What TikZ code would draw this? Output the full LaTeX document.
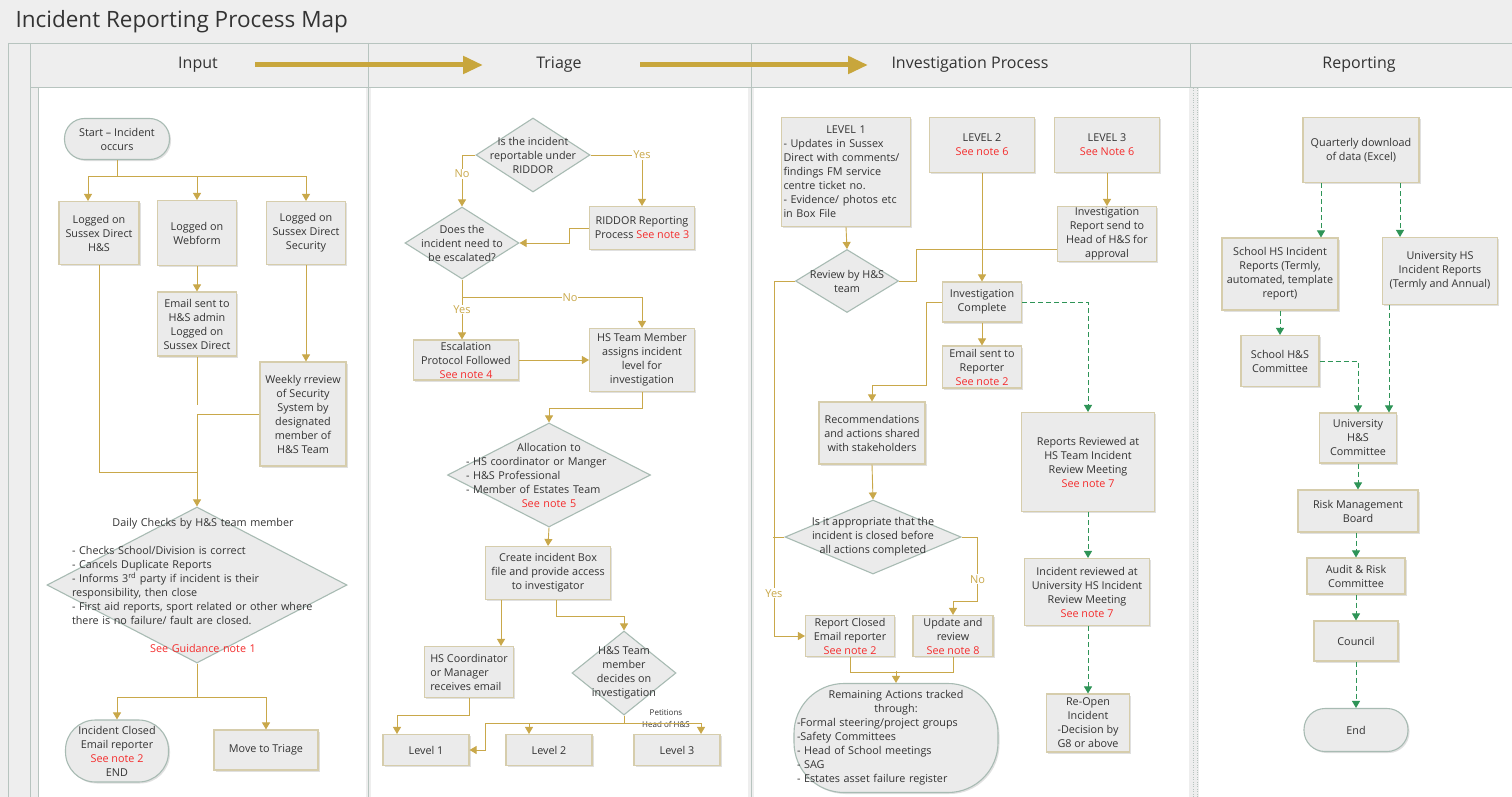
\documentclass[tikz,border=0pt]{standalone}
\usepackage{fontspec}
\setmainfont{Open Sans}
\usetikzlibrary{arrows.meta,shapes.geometric,shadows,positioning,calc}

\definecolor{pagebg}{HTML}{EEEEEE}
\definecolor{boxfill}{HTML}{EBEBEB}
\definecolor{boxline}{HTML}{D6CDAC}
\definecolor{decline}{HTML}{A8BBB3}
\definecolor{gold}{HTML}{C9A84A}
\definecolor{headgold}{HTML}{C8A63C}
\definecolor{flowgreen}{HTML}{2E9457}
\definecolor{notered}{HTML}{F42C2C}
\definecolor{laneline}{HTML}{B7C4BF}
\definecolor{txtgray}{HTML}{333333}

\newcommand{\seenote}[1]{\textcolor{notered}{#1}}
\newcommand{\ctrline}[1]{\leavevmode\hskip 0pt plus 1filll\relax #1\hskip 0pt plus 1filll\null}

\tikzset{
  every node/.style={font=\fontsize{10.8}{14}\selectfont, text=txtgray},
  proc/.style={draw=boxline, line width=1.1pt, fill=boxfill, align=center, inner sep=1pt,
    drop shadow={shadow xshift=1.5pt, shadow yshift=-1.5pt, opacity=0.3, fill=black!40}},
  term/.style={proc, draw=decline},
  decision/.style={diamond, draw=decline, line width=1.1pt, fill=boxfill, inner sep=0pt},
  dtext/.style={align=center, inner sep=0pt},
  conn/.style={draw=gold, line width=0.9pt, -{Triangle[length=7pt,width=8pt]}},
  link/.style={draw=gold, line width=0.9pt},
  gconn/.style={draw=flowgreen, line width=0.9pt, dash pattern=on 5pt off 3pt,
    -{Triangle[length=7pt,width=8pt]}},
  lab/.style={fill=white, text=gold, inner sep=1pt, font=\fontsize{11}{13}\selectfont},
  tinylab/.style={align=center, inner sep=0pt, font=\fontsize{8}{12}\selectfont},
  lanehead/.style={font=\fontsize{16}{19}\selectfont},
  headarrow/.style={draw=headgold, line width=5pt, -{Triangle[length=20pt,width=17pt]}},
}

\begin{document}
\begin{tikzpicture}[x=1pt, y=-1pt]
\useasboundingbox (0,0) rectangle (1512,797);

% swimlane frame
\fill[pagebg] (0,0) rectangle (1512,797);
\fill[white] (38,88) rectangle (366,797);
\fill[white] (371,88) rectangle (748,797);
\fill[white] (754,88) rectangle (1189,797);
\fill[white] (1199,88) rectangle (1512,797);
\draw[laneline] (8,43) -- (1512,43);
\draw[laneline] (8,43) -- (8,797);
\draw[laneline] (30,43) -- (30,797);
\draw[laneline] (30,87) -- (1512,87);
\draw[laneline] (38,88) -- (38,797);
\draw[laneline] (368,43) -- (368,797);
\draw[laneline] (751,43) -- (751,797);
\draw[laneline] (1190,43) -- (1190,87);
\draw[laneline, dotted] (1193,88) -- (1193,797);
\draw[laneline, dotted] (1197,88) -- (1197,797);

\node[anchor=west, font=\fontsize{22.5}{26}\selectfont] (maptitle) at (12,22) {Incident Reporting Process Map};

\node[lanehead] (hinput) at (198,65) {Input};
\node[lanehead] (htriage) at (559,65) {Triage};
\node[lanehead] (hinvest) at (970,65) {Investigation Process};
\node[lanehead] (hreport) at (1359,65) {Reporting};
\coordinate (stageA1) at (255,65);
\coordinate (stageA2) at (483,65);
\coordinate (stageB1) at (640,65);
\coordinate (stageB2) at (868,65);
\draw[headarrow] (stageA1) -- (stageA2);
\draw[headarrow] (stageB1) -- (stageB2);

% Input
\node[term, rounded corners=20pt, minimum width=105, minimum height=41] (start) at (117,139) {Start – Incident\\occurs};
\node[proc, minimum width=80, minimum height=63] (loghs) at (99,233) {Logged on\\Sussex Direct\\H\&S};
\node[proc, minimum width=79, minimum height=65] (logweb) at (197,233) {Logged on\\Webform};
\node[proc, minimum width=79, minimum height=63] (logsec) at (306,233) {Logged on\\Sussex Direct\\Security};
\node[proc, minimum width=79, minimum height=64] (emailadmin) at (197,324) {Email sent to\\H\&S admin\\Logged on\\Sussex Direct};
\node[proc, minimum width=86, minimum height=104] (weekly) at (303,414) {Weekly rreview\\of Security\\System by\\designated\\member of\\H\&S Team};
\node[decision, minimum width=300, minimum height=156] (daily) at (197,585) {};
\node[dtext, text width=262, align=left] (dailytxt) at (203,585) {\ctrline{Daily Checks by H\&S team member}\\[14pt]
  - Checks School/Division is correct\\
  - Cancels Duplicate Reports\\
  - Informs 3\textsuperscript{rd} party if incident is their\\
  responsibility, then close\\
  - First aid reports, sport related or other where\\
  there is no failure/ fault are closed.\\[14pt]
  \ctrline{\seenote{See Guidance note 1}}};
\node[term, rounded corners=30pt, minimum width=103, minimum height=62, inner sep=0pt] (closed) at (117,751) {Incident Closed\\Email reporter\\\seenote{See note 2}\\END};
\node[proc, minimum width=104, minimum height=40] (totriage) at (266,750) {Move to Triage};

\draw[conn] (start.south) -- ++(0,16) -| ([xshift=-11pt]loghs.north);
\draw[conn] (start.south) -- ++(0,16) -| (logweb.north);
\draw[conn] (start.south) -- ++(0,16) -| (logsec.north);
\draw[conn] (logweb.south) -- (emailadmin.north);
\draw[link] (emailadmin.south) -- ++(0,48);
\draw[conn] (logsec.south) -- (logsec.south |- weekly.north);
\draw[link] (loghs.south) |- ([yshift=34pt]daily.north);
\draw[conn] (weekly.west) -| (daily.north);
\draw[conn] (daily.south) -- ++(0,34) -| (closed.north);
\draw[conn] (daily.south) -- ++(0,34) -| (totriage.north);

% Triage
\node[decision, minimum width=114, minimum height=74] (riddorq) at (533,155) {};
\node[dtext] (riddorqt) at (riddorq) {Is the incident\\reportable under\\RIDDOR};
\node[decision, minimum width=114, minimum height=72] (escq) at (462,243) {};
\node[dtext] (escqt) at (escq) {Does the\\incident need to\\be escalated?};
\node[proc, minimum width=105, minimum height=43] (riddor) at (642,228) {RIDDOR Reporting\\Process \seenote{See note 3}};
\node[proc, minimum width=105, minimum height=40, inner sep=0pt] (escal) at (466,360) {Escalation\\Protocol Followed\\\seenote{See note 4}};
\node[proc, minimum width=105, minimum height=63] (assign) at (642,360) {HS Team Member\\assigns incident\\level for\\investigation};
\node[decision, minimum width=203, minimum height=104] (alloc) at (549,475) {};
\node[dtext, text width=166, align=left] (alloct) at (alloc) {\ctrline{Allocation to}\\
  - HS coordinator or Manger\\
  - H\&S Professional\\
  - Member of Estates Team\\
  \ctrline{\seenote{See note 5}}};
\node[proc, minimum width=125, minimum height=53] (boxfile) at (548,573) {Create incident Box\\file and provide access\\to investigator};
\node[proc, minimum width=89, minimum height=51, align=left] (hscoord) at (469,672) {HS Coordinator\\or Manager\\receives email};
\node[decision, minimum width=104, minimum height=84] (hsdec) at (624,673) {};
\node[dtext] (hsdect) at (hsdec) {H\&S Team\\member\\decides on\\investigation};
\node[proc, minimum width=86, minimum height=31] (level1) at (426,750) {Level 1};
\node[proc, minimum width=86, minimum height=31] (level2) at (549,750) {Level 2};
\node[proc, minimum width=86, minimum height=31] (level3) at (677,750) {Level 3};
\node[tinylab] (petition) at (666,719) {Petitions\\Head of H\&S};

\draw[conn] (riddorq.west) -| node[lab, pos=0.68] {No} (escq.north);
\draw[conn] (riddorq.east) -| node[lab, pos=0.5] {Yes} (riddor.north);
\draw[conn] (riddor.west) -- ++(-20,0) |- (escq.east);
\draw[conn] (escq.south) -- node[lab] {Yes} (escq.south |- escal.north);
\draw[conn] (escq.south) -- ++(0,18) -| node[lab, pos=0.3] {No} (assign.north);
\draw[conn] (escal.east) -- (assign.west);
\draw[conn] (assign.south) -- ++(0,16) -| (alloc.north);
\draw[conn] (alloc.south) -- (boxfile.north);
\draw[conn] ([xshift=-47pt]boxfile.south) -- ([xshift=-47pt]boxfile.south |- hscoord.north);
\draw[conn] ([xshift=8pt]boxfile.south) -- ++(0,16) -| (hsdec.north);
\draw[conn] (hscoord.south) -- ++(0,17) -| ([xshift=-29pt]level1.north);
\draw[conn] (hsdec.south) -- ++(0,8) -- ++(-139,0) |- (level1.east);
\draw[conn] (hsdec.south) -- ++(0,8) -| ([xshift=-20pt]level2.north);
\draw[conn] (hsdec.south) -- ++(0,8) -| ([xshift=24pt]level3.north);

% Investigation Process
\node[proc, minimum width=129, minimum height=109, text width=125, align=left] (lvl1) at (846,172) {\ctrline{LEVEL 1}\\
  - Updates in Sussex\\
  Direct with comments/\\
  findings FM service\\
  centre ticket no.\\
  - Evidence/ photos etc\\
  in Box File};
\node[proc, minimum width=105, minimum height=55] (lvl2) at (982,145) {LEVEL 2\\\seenote{See note 6}};
\node[proc, minimum width=105, minimum height=55] (lvl3) at (1107,145) {LEVEL 3\\\seenote{See Note 6}};
\node[proc, minimum width=99, minimum height=55, inner sep=0pt] (invrep) at (1107,234) {Investigation\\Report send to\\Head of H\&S for\\approval};
\node[decision, minimum width=103, minimum height=63] (review) at (847,281) {};
\node[dtext] (reviewt) at (review) {Review by H\&S\\team};
\node[proc, minimum width=79, minimum height=40] (invdone) at (982,302) {Investigation\\Complete};
\node[proc, minimum width=79, minimum height=42, inner sep=0pt] (emailrep) at (982,367) {Email sent to\\Reporter\\\seenote{See note 2}};
\node[proc, minimum width=106, minimum height=62] (recs) at (872,433) {Recommendations\\and actions shared\\with stakeholders};
\node[decision, minimum width=176, minimum height=74] (closeq) at (873,537) {};
\node[dtext] (closeqt) at (closeq) {Is it appropriate that the\\incident is closed before\\all actions completed};
\node[proc, minimum width=89, minimum height=41, inner sep=0pt] (repclosed) at (850,636) {Report Closed\\Email reporter\\\seenote{See note 2}};
\node[proc, minimum width=80, minimum height=41, inner sep=0pt] (update) at (953,636) {Update and\\review\\\seenote{See note 8}};
\node[term, rounded corners=50pt, minimum width=204, minimum height=109, text width=198, align=left, inner sep=3pt] (remaining) at (896,738) {\ctrline{Remaining Actions tracked}\\
  \ctrline{through:}\\
  -Formal steering/project groups\\
  -Safety Committees\\
  - Head of School meetings\\
  - SAG\\
  - Estates asset failure register};
\node[proc, minimum width=133, minimum height=99] (revmeet) at (1088,462) {Reports Reviewed at\\HS Team Incident\\Review Meeting\\\seenote{See note 7}};
\node[proc, minimum width=125, minimum height=67] (univmeet) at (1087,592) {Incident reviewed at\\University HS Incident\\Review Meeting\\\seenote{See note 7}};
\node[proc, minimum width=83, minimum height=58, inner sep=0pt] (reopen) at (1088,723) {Re-Open\\Incident\\-Decision by\\G8 or above};

\draw[conn] (lvl1.south) -- (review.north);
\draw[conn] (lvl2.south) -- (invdone.north);
\draw[conn] (lvl3.south) -- (invrep.north);
\draw[link] ([yshift=-15pt]invrep.west) -| ([xshift=17pt]review.east) -- (review.east);
\draw[conn] (review.west) -- ++(-21,0) |- node[lab, pos=0.44] {Yes} (repclosed.west);
\draw[link] (closeq.west) -- ++(-11,0);
\draw[conn] (invdone.south) -- (emailrep.north);
\draw[conn] (invdone.west) -- ++(-16,0) |- ([yshift=16pt]recs.north) -- (recs.north);
\draw[gconn] (invdone.east) -| (revmeet.north);
\draw[conn] (recs.south) -- (closeq.north);
\draw[conn] (closeq.east) -- ++(16,0) |- node[lab, pos=0.33] {No} ([yshift=14pt]update.north) -- (update.north);
\draw[link] (repclosed.south) -- ++(0,15) -| (update.south);
\draw[conn] ([yshift=12pt]remaining.north) -- (remaining.north);
\draw[gconn] (revmeet.south) -- (revmeet.south |- univmeet.north);
\draw[gconn] (revmeet.south |- univmeet.south) -- (revmeet.south |- reopen.north);

% Reporting
\node[proc, minimum width=116, minimum height=65] (quarterly) at (1361,150) {Quarterly download\\of data (Excel)};
\node[proc, minimum width=116, minimum height=72, inner sep=0pt] (schoolrep) at (1280,274) {School HS Incident\\Reports (Termly,\\automated, template\\report)};
\node[proc, minimum width=115, minimum height=67] (univrep) at (1440,271) {University HS\\Incident Reports\\(Termly and Annual)};
\node[proc, minimum width=78, minimum height=51] (schcomm) at (1280,361) {School H\&S\\Committee};
\node[proc, minimum width=77, minimum height=50] (univcomm) at (1358,438) {University\\H\&S\\Committee};
\node[proc, minimum width=120, minimum height=42] (riskboard) at (1358,511) {Risk Management\\Board};
\node[proc, minimum width=98, minimum height=36, inner sep=0pt] (audit) at (1356,576) {Audit \& Risk\\Committee};
\node[proc, minimum width=84, minimum height=40] (council) at (1356,641) {Council};
\node[term, rounded corners=21pt, minimum width=104, minimum height=43] (endnode) at (1356,730) {End};

\draw[gconn] ([xshift=-40pt]quarterly.south) -- ([xshift=-40pt]quarterly.south |- schoolrep.north);
\draw[gconn] ([xshift=39pt]quarterly.south) -- ([xshift=39pt]quarterly.south |- univrep.north);
\draw[gconn] (schoolrep.south) -- (schcomm.north);
\draw[gconn] (schcomm.east) -| (univcomm.north);
\draw[gconn] ([xshift=-51pt]univrep.south) -- ([xshift=-51pt]univrep.south |- univcomm.north);
\draw[gconn] (univcomm.south) -- (riskboard.north);
\draw[gconn] (riskboard.south -| audit.north) -- (audit.north);
\draw[gconn] (audit.south) -- (council.north);
\draw[gconn] (council.south) -- (endnode.north);
\end{tikzpicture}
\end{document}
